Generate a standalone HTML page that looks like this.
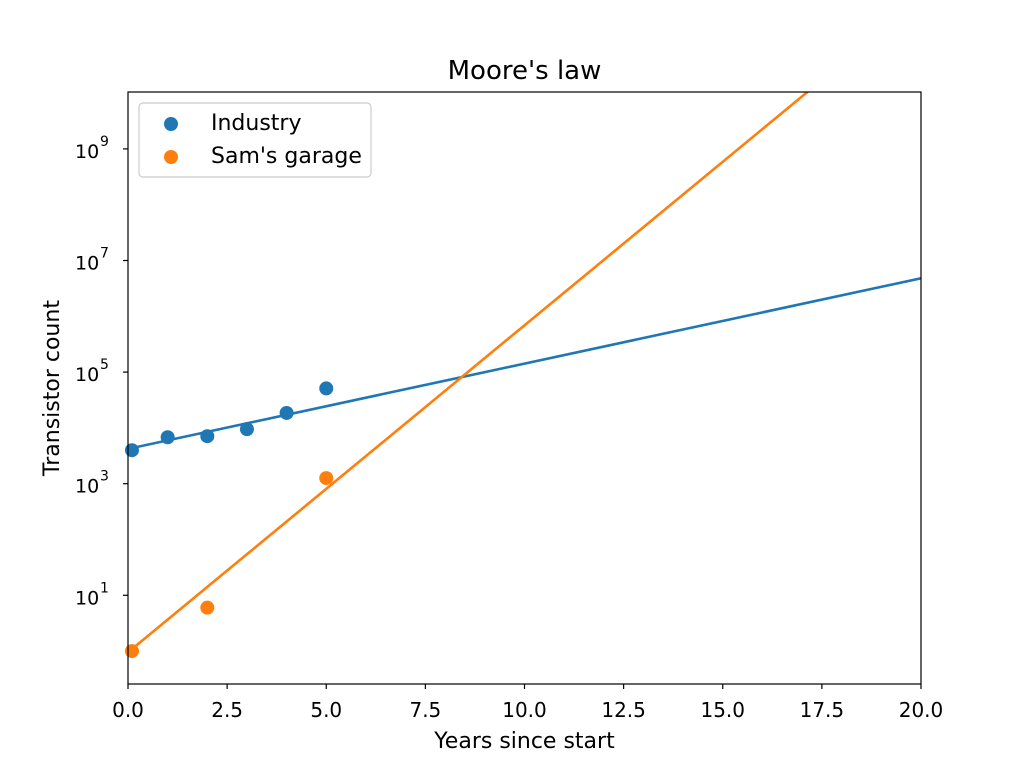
<!DOCTYPE html>
<html><head><meta charset="utf-8"><style>
body{margin:0;background:#fff;}
svg{font-family:"DejaVu Sans","Liberation Sans",sans-serif;}
</style></head><body>
<svg id="chart" width="1024" height="768" viewBox="0 0 1024 768">
<rect width="1024" height="768" fill="#fff"/>
<text x="524.5" y="79" font-size="26" text-anchor="middle">Moore's law</text>
<g id="plot"></g>
<g id="axes"></g>
<rect x="128" y="92" width="793" height="592" fill="none" stroke="#000" stroke-width="1.2"/>
<text x="524.5" y="748" font-size="22" text-anchor="middle">Years since start</text>
<text transform="translate(59,388) rotate(-90)" font-size="22" text-anchor="middle">Transistor count</text>
<g>
<rect x="139" y="103" width="232" height="74" rx="4" fill="#fff" stroke="#ccc" stroke-width="1.2"/>
<circle cx="171" cy="124" r="7" fill="#1f77b4"/>
<text x="211" y="130" font-size="22">Industry</text>
<circle cx="171" cy="157" r="7" fill="#ff7f0e"/>
<text x="211" y="163" font-size="22">Sam's garage</text>
</g>
</svg>
<script>
const industryYears=[0.1,1,2,3,4,5];
const industryCounts=[3980,6800,7100,9500,18500,51000];
const garageYears=[0.1,2,5];
const garageCounts=[1,6,1260];
const industryFitYears=[0,20];
const industryFitCounts=[4200,4800000];
const garageFitYears=[0,20];
const garageFitCounts=[0.95,5.0e11];
const xTicks=[0,2.5,5,7.5,10,12.5,15,17.5,20];
const yTickExps=[1,3,5,7,9];

const X0=128,X1=921,Y0=684,Y1=92,xmin=0,xmax=20,lmin=-0.59,lmax=10.02;
const sx=v=>X0+(v-xmin)/(xmax-xmin)*(X1-X0);
const sy=v=>Y0-(Math.log10(v)-lmin)/(lmax-lmin)*(Y0-Y1);
const NS="http://www.w3.org/2000/svg";
const plot=document.getElementById('plot'),axes=document.getElementById('axes');
function mk(tag,attrs,parent){const e=document.createElementNS(NS,tag);for(const k in attrs)e.setAttribute(k,attrs[k]);parent.appendChild(e);return e;}
const cp=mk('clipPath',{id:'clip'},plot);mk('rect',{x:X0,y:Y1,width:X1-X0,height:Y0-Y1},cp);
function line(xs,ys,color,name){
  const l=mk('line',{x1:sx(xs[0]),y1:sy(ys[0]),x2:sx(xs[1]),y2:sy(ys[1]),stroke:color,'stroke-width':2.6,'clip-path':'url(#clip)'},plot);
  
  
}
line(industryFitYears,industryFitCounts,'#1f77b4','industry-fit-line');
line(garageFitYears,garageFitCounts,'#ff7f0e','garage-fit-line');
industryYears.forEach((x,i)=>{const c=mk('circle',{cx:sx(x),cy:sy(industryCounts[i]),r:7,fill:'#1f77b4'},plot);
  
  });
garageYears.forEach((x,i)=>{const c=mk('circle',{cx:sx(x),cy:sy(garageCounts[i]),r:7,fill:'#ff7f0e'},plot);
  
  });
xTicks.forEach(t=>{const x=sx(t);
  mk('line',{x1:x,y1:Y0,x2:x,y2:Y0+5,stroke:'#000','stroke-width':1.2},axes);
  const tx=mk('text',{x:x,y:Y0+33,'font-size':20,'text-anchor':'middle'},axes);tx.textContent=t.toFixed(1);
  
  });
yTickExps.forEach(e=>{const y=sy(Math.pow(10,e));
  mk('line',{x1:X0-5,y1:y,x2:X0,y2:y,stroke:'#000','stroke-width':1.2},axes);
  const tx=mk('text',{x:75,y:y+9,'font-size':19},axes);tx.textContent='10';
  
  
  const sup=mk('text',{x:100,y:y-3,'font-size':14},axes);sup.textContent=String(e);
  
  });
</script>
</body></html>
